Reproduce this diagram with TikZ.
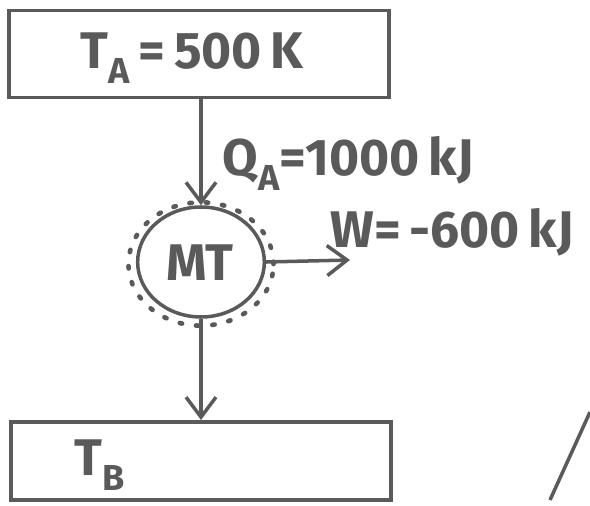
\documentclass[tikz,border=0pt]{standalone}
\usepackage{fontspec}
\setmainfont{Fira Sans}
\usepackage{tikz}
\usetikzlibrary{arrows.meta,shapes.geometric}
\definecolor{ink}{HTML}{5A5A5A}

\begin{document}
\begin{tikzpicture}[x=0.03cm, y=-0.03cm, line width=3pt, draw=ink, text=ink,
    box/.style={draw, rectangle, minimum width=11.4cm, inner sep=0pt},
    engine/.style={draw, ellipse, minimum width=3.8cm, minimum height=3.3cm},
    shell/.style={draw, ellipse, line width=4pt, line cap=round, dash pattern=on 2pt off 12pt, minimum width=4.35cm, minimum height=3.7cm},
    lbl/.style={font=\fontsize{44}{44}\selectfont\bfseries, inner sep=0pt},
    flow/.style={-{Straight Barb[length=6mm, width=9mm]}, ink}]
    \useasboundingbox (0,0) rectangle (590,506);

    % Define the reservoirs and the engine
    \node[box, minimum height=2.6cm] (ta) at (199,54) {};
    \node[lbl] (talabel) at (192,58) {T\textsubscript{A}\,=\,500\,K};
    \node[shell] (mtshell) at (201,264) {};
    \node[engine] (mt) at (201,262) {};
    \node[lbl] (mtlabel) at (200,263) {MT};
    \node[box, minimum height=2.35cm] (tb) at (201,461) {};
    \node[lbl] (tblabel) at (100,465) {T\textsubscript{B}};
    \coordinate (wend) at (350,260);

    % Connect them with flows
    \draw[flow] (ta.south -| mt.north) -- (mt.north);
    \draw[flow] (mt.south) -- (mt.south |- tb.north);
    \draw[flow] (mt.east) -- (wend);
    \node[lbl] (qa) at (348,163) {Q\textsubscript{A}=1000\,kJ};
    \node[lbl] (w) at (452,232) {W=\,-600\,kJ};

    % Stray mark
    \coordinate (marka) at (550,500);
    \coordinate (markb) at (590,412);
    \draw (marka) -- (markb);
\end{tikzpicture}
\end{document}
